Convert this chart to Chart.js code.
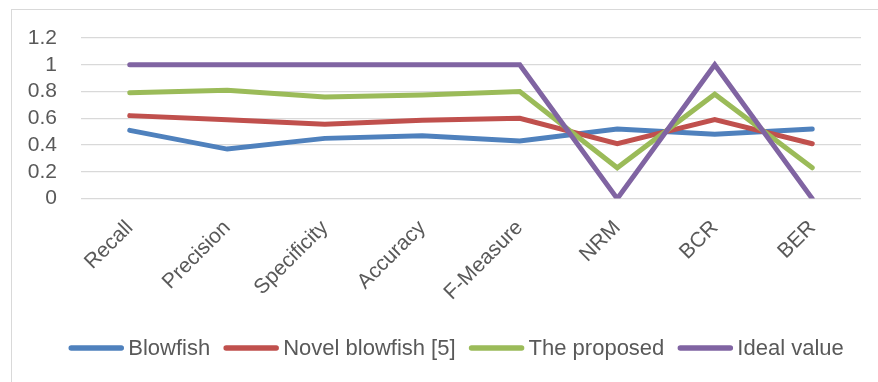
<!DOCTYPE html>
<html>
<head>
<meta charset="utf-8">
<script src="https://cdn.jsdelivr.net/npm/chart.js@4/dist/chart.umd.min.js"></script>
<style>
  html, body { margin: 0; padding: 0; background: #ffffff; }
  #wrap { width: 878px; height: 382px; position: relative; }
</style>
</head>
<body>
<div id="wrap"><canvas id="c"></canvas></div>
<script>
const categories = ['Recall', 'Precision', 'Specificity', 'Accuracy', 'F-Measure', 'NRM', 'BCR', 'BER'];
const blowfish = [0.51, 0.37, 0.45, 0.47, 0.43, 0.52, 0.48, 0.52];
const novelBlowfish = [0.62, 0.59, 0.555, 0.585, 0.60, 0.41, 0.59, 0.41];
const proposed = [0.79, 0.81, 0.76, 0.775, 0.80, 0.23, 0.78, 0.23];
const ideal = [1, 1, 1, 1, 1, 0, 1, 0];
const seriesNames = ['Blowfish', 'Novel blowfish [5]', 'The proposed', 'Ideal value'];
const yTicks = [0, 0.2, 0.4, 0.6, 0.8, 1, 1.2];

const colors = ['#4F81BD', '#C0504D', '#9BBB59', '#8064A2'];
const FONT = '"Liberation Sans", Arial, sans-serif';
const TEXT = '#595959';

const framePlugin = {
  id: 'frame',
  beforeDraw(chart) {
    const ctx = chart.ctx;
    ctx.save();
    ctx.fillStyle = '#ffffff';
    ctx.fillRect(0, 0, chart.width, chart.height);
    ctx.strokeStyle = '#d9d9d9';
    ctx.lineWidth = 1;
    ctx.strokeRect(11.5, 9.5, 1000, 1000);
    ctx.restore();
  }
};

const legendPlugin = {
  id: 'customLegend',
  afterDraw(chart) {
    const ctx = chart.ctx;
    const ds = chart.data.datasets;
    ctx.save();
    ctx.font = '22px ' + FONT;
    const lineLen = 56, gapText = 4, gapItem = 13;
    let total = 0;
    const widths = ds.map(d => ctx.measureText(d.label).width);
    widths.forEach((w, i) => { total += lineLen + gapText + w + (i < ds.length - 1 ? gapItem : 0); });
    let x = 456 - total / 2;
    const y = 348;
    ds.forEach((d, i) => {
      ctx.strokeStyle = d.borderColor;
      ctx.lineWidth = 5.5;
      ctx.lineCap = 'round';
      ctx.beginPath();
      ctx.moveTo(x + 3, y);
      ctx.lineTo(x + lineLen - 3, y);
      ctx.stroke();
      ctx.fillStyle = TEXT;
      ctx.textBaseline = 'middle';
      ctx.textAlign = 'left';
      ctx.fillText(d.label, x + lineLen + gapText, y + 1);
      x += lineLen + gapText + widths[i] + gapItem;
    });
    ctx.restore();
  }
};

const seriesData = [blowfish, novelBlowfish, proposed, ideal];

new Chart(document.getElementById('c'), {
  type: 'line',
  data: {
    labels: categories,
    datasets: seriesData.map((vals, i) => ({
      label: seriesNames[i],
      data: vals,
      borderColor: colors[i],
      backgroundColor: colors[i],
      borderWidth: 5,
      pointRadius: 0,
      pointHoverRadius: 0,
      tension: 0,
      fill: false,
      borderCapStyle: 'round',
      borderJoinStyle: 'miter',
      order: 4 - i
    }))
  },
  options: {
    responsive: true,
    maintainAspectRatio: false,
    animation: false,
    devicePixelRatio: 1,
    layout: { padding: { top: 38, right: 17, left: 0, bottom: 0 } },
    plugins: {
      legend: { display: false },
      tooltip: { enabled: false }
    },
    scales: {
      x: {
        offset: true,
        grid: { display: false, drawTicks: false },
        border: { display: false },
        ticks: {
          color: TEXT,
          font: { family: FONT, size: 21 },
          minRotation: 45,
          maxRotation: 45,
          padding: 17,
          autoSkip: false
        },
        afterFit(scale) { scale.height = 183.4; }
      },
      y: {
        min: yTicks[0],
        max: yTicks[yTicks.length - 1],
        afterBuildTicks(scale) { scale.ticks = yTicks.map(v => ({ value: v })); },
        grid: { color: '#d9d9d9', lineWidth: 1.2, drawTicks: false },
        border: { display: false },
        ticks: {
          color: TEXT,
          font: { family: FONT, size: 21 },
          padding: 24,
          autoSkip: false,
          callback: (v) => String(Number(v.toFixed(1)))
        },
        afterFit(scale) { scale.width = 81; }
      }
    }
  },
  plugins: [framePlugin, legendPlugin]
});
</script>
</body>
</html>
